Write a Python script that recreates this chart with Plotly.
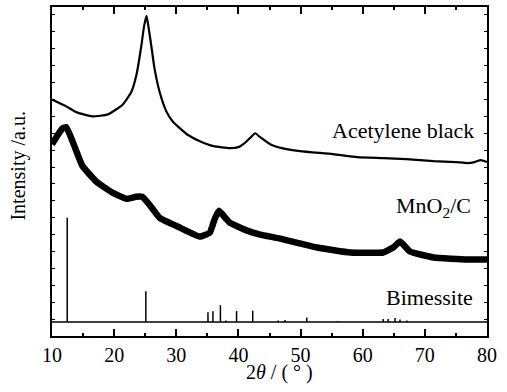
import plotly.graph_objects as go

# ---- data (arbitrary intensity units) ----
ab_x = [10, 12.3, 14, 16.5, 19, 21.4, 22.8, 23.6, 24.4, 24.8, 25.2, 25.5, 26.0, 26.5, 27.3, 28.4,
        29.4, 31.7, 33.8, 36, 38.6, 40, 41, 42, 42.7, 43.5, 45.1, 47, 49.9, 55.2, 59.1, 63.3,
        67, 71.4, 75, 76.9, 78, 79, 80]
ab_y = [238, 231, 225, 221, 223, 233, 246, 263, 293, 311, 322, 312, 291, 269, 246, 226,
        216, 203, 196, 191, 189, 190, 194, 200, 204, 200, 193, 189, 186, 183, 180, 179,
        178, 176, 175, 174, 175, 177, 175]

mn_x = [10, 10.8, 11.7, 12.3, 13.3, 14.9, 17.2, 19.8, 22.0, 23.5, 24.5, 25.7, 27.3, 30.6,
        33.8, 35.4, 36.2, 36.9, 38.0, 38.6, 41.4, 43.5, 46.7, 52.7, 58.0, 63.3, 64.9, 66.0,
        67.6, 71.4, 76.9, 80]
mn_y = [193, 201, 209, 210, 196, 171, 155, 144, 138, 140, 140, 132, 119, 109,
        100, 104, 118, 126, 118, 114, 106, 102, 98, 89, 84, 84, 89, 95,
        85, 79, 77, 77]

bim_base = 14
bim_x = [12.45, 25.1, 35.1, 35.9, 37.1, 38.0, 39.7, 42.3, 46.4, 47.5, 51.0, 56.0,
         63.3, 64.1, 65.2, 66.0, 67.1]
bim_h = [105, 31, 10, 11, 17, 1.5, 11, 11.5, 1.5, 2, 4.5, 1,
         3, 3, 4, 2.5, 1.5]

x_ticks = [10, 20, 30, 40, 50, 60, 70, 80]

FONT = "Times New Roman"

fig = go.Figure()

fig.add_trace(go.Scatter(x=ab_x, y=ab_y, mode="lines",
                         line=dict(color="black", width=2.2, shape="spline", smoothing=0.5),
                         hoverinfo="skip"))
fig.add_trace(go.Scatter(x=mn_x, y=mn_y, mode="lines",
                         line=dict(color="black", width=6.5, shape="spline", smoothing=0.35),
                         hoverinfo="skip"))

# stick pattern
sx, sy = [], []
for xv, hv in zip(bim_x, bim_h):
    sx += [xv, xv, None]
    sy += [bim_base, bim_base + hv, None]
fig.add_trace(go.Scatter(x=sx, y=sy, mode="lines",
                         line=dict(color="black", width=1.5), hoverinfo="skip"))
fig.add_trace(go.Scatter(x=[x_ticks[0], x_ticks[-1]], y=[bim_base, bim_base], mode="lines",
                         line=dict(color="black", width=1.5), hoverinfo="skip"))

ann_font = dict(family=FONT, size=22, color="black")
fig.update_layout(
    width=507, height=392,
    margin=dict(l=52, r=20, t=5, b=56),
    paper_bgcolor="white", plot_bgcolor="white",
    showlegend=False,
    font=dict(family=FONT, color="black"),
    xaxis=dict(range=[10, 80], tickvals=x_ticks, ticks="inside", ticklen=7, tickwidth=1.5,
               tickcolor="black", showline=True, linecolor="black", linewidth=2,
               mirror="ticks", showgrid=False, zeroline=False,
               tickfont=dict(family=FONT, size=20, color="black"),
               minor=dict(dtick=5, ticks="inside", ticklen=3, tickcolor="black", tickwidth=1.5)),
    yaxis=dict(range=[0, 331], showticklabels=False, ticks="inside", ticklen=3, dtick=17,
               tickcolor="black", showline=True, linecolor="black", linewidth=2,
               mirror="ticks", showgrid=False, zeroline=False),
    annotations=[
        dict(x=78.3, y=207, xref="x", yref="y", text="Acetylene black", showarrow=False,
             xanchor="right", yanchor="middle", font=ann_font),
        dict(x=77.7, y=130, xref="x", yref="y", text="MnO<sub>2</sub>/C", showarrow=False,
             xanchor="right", yanchor="middle", font=ann_font),
        dict(x=78.1, y=39, xref="x", yref="y", text="Bimessite", showarrow=False,
             xanchor="right", yanchor="middle", font=ann_font),
        dict(x=0.5236, y=-0.112, xref="paper", yref="paper", text="2<i>θ</i> / ( ° )",
             showarrow=False, xanchor="center", yanchor="middle",
             font=dict(family=FONT, size=20, color="black")),
        dict(x=-0.077, y=0.5166, xref="paper", yref="paper", text="Intensity /a.u.",
             showarrow=False, textangle=-90, xanchor="center", yanchor="middle",
             font=dict(family=FONT, size=20, color="black")),
    ],
)

fig.write_html("out.html")
